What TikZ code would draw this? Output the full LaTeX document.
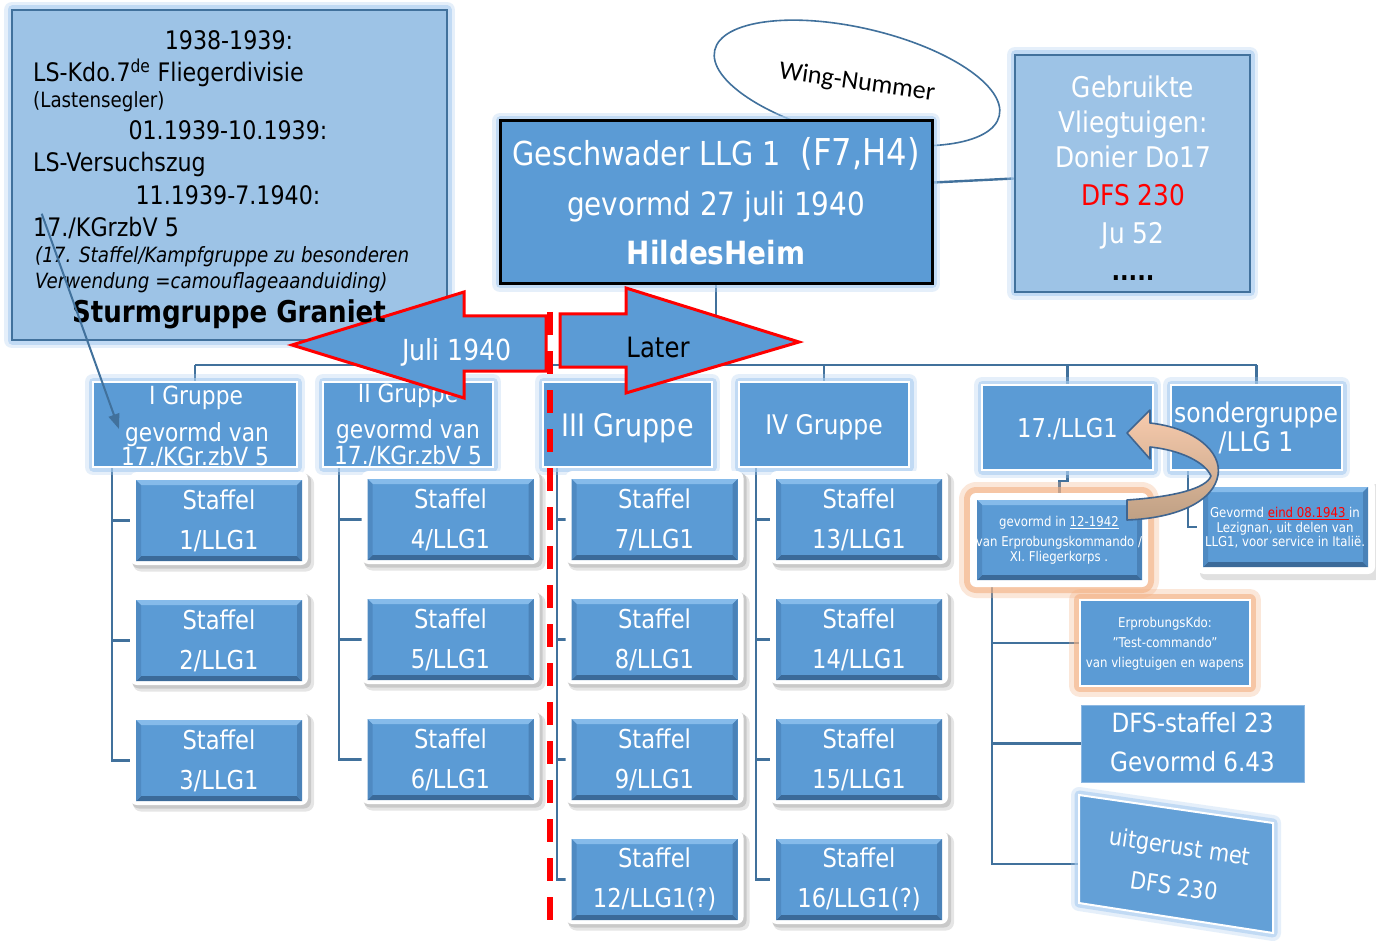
\documentclass[tikz,border=0pt]{standalone}
\usepackage{fontspec}
\setmainfont{DejaVu Sans}[FakeStretch=0.87]
\newfontfamily\calib{Carlito}
\usetikzlibrary{arrows.meta,shapes.geometric}
\definecolor{mainblue}{HTML}{5B9BD5}
\definecolor{connc}{HTML}{41719C}
\definecolor{lightb}{HTML}{9DC3E6}
\definecolor{glowb}{HTML}{A9CDF0}
\definecolor{oglowc}{HTML}{F4B183}
\definecolor{bevtop}{HTML}{86BBEA}
\definecolor{bevbot}{HTML}{3B6A99}
\definecolor{bevleft}{HTML}{4F8AC2}
\definecolor{bevright}{HTML}{4A82B8}
\definecolor{peachA}{HTML}{F8CBAD}
\definecolor{peachB}{HTML}{BFA084}
\definecolor{arredge}{HTML}{3F6590}
\definecolor{dfsedge}{HTML}{8DB8E2}
\pgfdeclarelayer{bgfill}
\pgfdeclarelayer{bg}
\pgfsetlayers{bgfill,bg,main}
\newcommand\fsz[2]{\fontsize{#1pt}{#2pt}\selectfont}
% staffel box: name, cx, cy, text
\newcommand\staffelbox[4]{%
  \fill[black, opacity=0.10, rounded corners=8pt] ({#2-86},{#3-43}) rectangle ({#2+95},{#3+53});
  \fill[black, opacity=0.12, rounded corners=7pt] ({#2-87},{#3-45}) rectangle ({#2+92},{#3+50});
  \fill[white, rounded corners=7pt] ({#2-89},{#3-46.5}) rectangle ({#2+89},{#3+46.5});
  \node[bevelbox, minimum width=166pt, minimum height=81pt, font=\fsz{26}{40}, align=center, yshift=-2pt] (#1) at (#2,#3) {#4};
}
\begin{document}
\begin{tikzpicture}[x=1pt,y=-1pt,
  conn/.style={draw=connc, line width=2.4pt},
  glow/.style={preaction={draw=glowb, line width=16pt, draw opacity=0.3, line join=round},
               preaction={draw=glowb, line width=9pt, draw opacity=0.6, line join=round}},
  oglow/.style={preaction={draw=oglowc, line width=22pt, draw opacity=0.3, line join=round},
                preaction={draw=oglowc, line width=12pt, draw opacity=0.6, line join=round}},
  gbox/.style={rectangle, fill=mainblue, draw=white, line width=2pt, glow, inner sep=0pt},
  wt/.style={text=white, inner sep=0pt, anchor=base, yshift={-0.365*#1pt}, font=\fsz{#1}{#1}},
  bt/.style={text=black, inner sep=0pt, anchor=base, yshift={-0.365*#1pt}, font=\fsz{#1}{#1}},
  btl/.style={text=black, inner sep=0pt, anchor=base west, yshift={-0.365*#1pt}, font=\fsz{#1}{#1}},
  redarrow/.style={fill=mainblue, draw=red, line width=3pt, line join=miter},
  bevelbox/.style={rectangle, fill=mainblue, inner sep=0pt, text=white, path picture={
    \coordinate (pnw) at (path picture bounding box.north west);
    \coordinate (pse) at (path picture bounding box.south east);
    \coordinate (pne) at (pnw -| pse);
    \coordinate (psw) at (pse -| pnw);
    \fill[bevtop] (pnw) -- (pne) -- ([shift={(-5pt,-5pt)}]pne) -- ([shift={(5pt,-5pt)}]pnw) -- cycle;
    \fill[bevbot] (psw) -- (pse) -- ([shift={(-5pt,5pt)}]pse) -- ([shift={(5pt,5pt)}]psw) -- cycle;
    \fill[bevleft] (pnw) -- ([shift={(5pt,-5pt)}]pnw) -- ([shift={(5pt,5pt)}]psw) -- (psw) -- cycle;
    \fill[bevright] (pne) -- ([shift={(-5pt,-5pt)}]pne) -- ([shift={(-5pt,5pt)}]pse) -- (pse) -- cycle;
  }}
]
\begin{pgfonlayer}{bgfill}
\fill[white] (0,0) rectangle (1376,941);
\end{pgfonlayer}
\useasboundingbox (0,0) rectangle (1376,941);

% Wing-Nummer ellipse
\node[ellipse, draw=connc, line width=1.6pt, rotate=-13, minimum width=292pt, minimum height=110pt, inner sep=0pt] (wing) at (857,83) {};
\node[font=\calib\fsz{26}{30}, rotate=-8, inner sep=0pt] (wingt) at (857,83) {Wing-Nummer};

% top-left box
\node[rectangle, fill=lightb, draw=connc, line width=2.5pt, glow, minimum width=435pt, minimum height=330pt, inner sep=0pt] (tl) at (229.5,175) {};

% Geschwader
\node[rectangle, fill=mainblue, draw=black, line width=3pt, glow, minimum width=432pt, minimum height=163pt, inner sep=0pt] (gesch) at (716,202.5) {};
\node[wt=33] (gl1) at (716,153) {Geschwader LLG 1\hspace{0.6em}{\fsz{37}{40}(F7,H4)}};
\node[wt=32] (gl2) at (716,204) {gevormd 27 juli 1940};
\node[wt=32] (gl3) at (716,253) {\bfseries HildesHeim};

% Gebruikte
\node[rectangle, fill=lightb, draw=connc, line width=2.5pt, glow, minimum width=235pt, minimum height=237pt, inner sep=0pt] (gebr) at (1132.5,173.5) {};
\node[wt=28.5] (gb1) at (1133,87) {Gebruikte};
\node[wt=28.5] (gb2) at (1133,122) {Vliegtuigen:};
\node[wt=28.5] (gb3) at (1133,157) {Donier Do17};
\node[wt=28.5, text=red] (gb4) at (1133,195) {DFS 230};
\node[wt=28.5] (gb5) at (1133,233) {Ju 52};
\node[text=black, inner sep=0pt, anchor=base, font=\bfseries\fsz{26}{30}] (gb6) at (1133,281) {.....};

% Gruppe boxes
\node[gbox, minimum width=204pt, minimum height=85pt] (g1) at (195,424.5) {};
\node[gbox, minimum width=170pt, minimum height=85pt] (g2) at (408,424.5) {};
\node[gbox, minimum width=169pt, minimum height=85pt] (g3) at (627.5,424.5) {};
\node[gbox, minimum width=170pt, minimum height=85pt] (g4) at (824,424.5) {};
\node[gbox, minimum width=171pt, minimum height=85pt] (g17) at (1067.5,427.5) {};
\node[gbox, minimum width=171pt, minimum height=85pt] (gson) at (1256.5,427.5) {};

\node[wt=25] (g1a) at (196,395) {I Gruppe};
\node[wt=25] (g1b) at (197,432) {gevormd van};
\node[wt=25] (g1c) at (195,456) {17./KGr.zbV 5};
\node[wt=25] (g2a) at (408,393) {II Gruppe};
\node[wt=25] (g2b) at (408,429) {gevormd van};
\node[wt=25] (g2c) at (408,455) {17./KGr.zbV 5};
\node[wt=31] (g3a) at (627.5,425) {III Gruppe};
\node[wt=27] (g4a) at (824,425) {IV Gruppe};
\node[wt=26] (g17a) at (1067.5,428) {17./LLG1};
\node[wt=27] (gsa) at (1256,413) {sondergruppe};
\node[wt=27] (gsb) at (1256,442) {/LLG 1};

% Staffel boxes
\staffelbox{s1}{219}{518.5}{Staffel\\1/LLG1}
\staffelbox{s2}{219}{638.5}{Staffel\\2/LLG1}
\staffelbox{s3}{219}{758.5}{Staffel\\3/LLG1}
\staffelbox{s4}{450.5}{517.5}{Staffel\\4/LLG1}
\staffelbox{s5}{450.5}{637.5}{Staffel\\5/LLG1}
\staffelbox{s6}{450.5}{757.5}{Staffel\\6/LLG1}
\staffelbox{s7}{654.5}{517.5}{Staffel\\7/LLG1}
\staffelbox{s8}{654.5}{637.5}{Staffel\\8/LLG1}
\staffelbox{s9}{654.5}{757.5}{Staffel\\9/LLG1}
\staffelbox{s12}{654.5}{877.5}{Staffel\\12/LLG1(?)}
\staffelbox{s13}{859}{517.5}{Staffel\\13/LLG1}
\staffelbox{s14}{859}{637.5}{Staffel\\14/LLG1}
\staffelbox{s15}{859}{757.5}{Staffel\\15/LLG1}
\staffelbox{s16}{859}{877.5}{Staffel\\16/LLG1(?)}

% gevormd in (orange glow frame)
\fill[white, rounded corners=6pt, oglow] (970,493) rectangle (1148,587);
\node[bevelbox, minimum width=165pt, minimum height=80pt] (gin) at (1059.5,540) {};
\node[wt=13.5] (gin1) at (1059,522) {gevormd in \underline{12-1942}};
\node[wt=13.5] (gin2) at (1059,542) {van Erprobungskommando /};
\node[wt=13.5] (gin3) at (1059,557) {XI. Fliegerkorps .};

% gevormd eind (shadow frame)
\fill[black, opacity=0.12, rounded corners=7pt] (1200,484) rectangle (1382,580);
\fill[white, rounded corners=7pt] (1197,480) rectangle (1375,574);
\node[bevelbox, minimum width=165pt, minimum height=80pt] (gend) at (1285.5,527) {};
\node[wt=13.5] (ge1) at (1285,513) {Gevormd \textcolor{red}{\underline{eind 08.1943 }}in};
\node[wt=13.5] (ge2) at (1285,528) {Lezignan, uit delen van};
\node[wt=13.5] (ge3) at (1285,542) {LLG1, voor service in Itali\"e.};

% ErprobungsKdo
\node[rectangle, fill=mainblue, draw=white, line width=2.5pt, oglow, minimum width=170pt, minimum height=86pt, inner sep=0pt] (erp) at (1165,643) {};
\node[wt=13.5] (erp1) at (1165,623) {ErprobungsKdo:};
\node[wt=13.5] (erp2) at (1165,643) {"Test-commando"};
\node[wt=13.5] (erp3) at (1165,663) {van vliegtuigen en wapens};

% DFS-staffel
\node[rectangle, fill=mainblue, draw=dfsedge, line width=1pt, minimum width=223pt, minimum height=77pt, inner sep=0pt] (dfs) at (1192.5,743.5) {};
\node[wt=26.5] (dfs1) at (1192.5,723) {DFS-staffel 23};
\node[wt=26.5] (dfs2) at (1192.5,762) {Gevormd 6.43};

% uitgerust parallelogram
\draw[fill=mainblue!95!white, draw=white, line width=2pt, glow] (1079,795) -- (1273,823) -- (1273,933) -- (1079,903) -- cycle;
\coordinate (uitw) at (1079,864);
\node[text=white, font=\fsz{24}{40}, align=center, rotate=-8.2, inner sep=0pt] (uit) at (1177,866) {uitgerust met\\DFS 230};

% connectors (background layer)
\begin{pgfonlayer}{bg}
\coordinate (busL) at (195,365);
\draw[conn] (gesch.south) -- (gesch.south |- busL);
\draw[conn] (g1.north |- busL) -- (gson.north |- busL);
\foreach \g in {g1,g2,g3,g4,g17,gson} { \draw[conn] (\g.north |- busL) -- (\g.north); }
\draw[conn] ([yshift=20pt]gesch.east) -- ([yshift=-5pt]gebr.west);
\draw[conn] ([xshift=20pt]g1.south west) |- (s1.west);
\draw[conn] ([xshift=20pt]g1.south west) |- (s2.west);
\draw[conn] ([xshift=20pt]g1.south west) |- (s3.west);
\draw[conn] ([xshift=17pt]g2.south west) |- (s4.west);
\draw[conn] ([xshift=17pt]g2.south west) |- (s5.west);
\draw[conn] ([xshift=17pt]g2.south west) |- (s6.west);
\draw[conn] ([xshift=15pt]g3.south west) |- (s7.west);
\draw[conn] ([xshift=15pt]g3.south west) |- (s8.west);
\draw[conn] ([xshift=15pt]g3.south west) |- (s9.west);
\draw[conn] ([xshift=15pt]g3.south west) |- (s12.west);
\draw[conn] ([xshift=18pt]g4.south west) |- (s13.west);
\draw[conn] ([xshift=18pt]g4.south west) |- (s14.west);
\draw[conn] ([xshift=18pt]g4.south west) |- (s15.west);
\draw[conn] ([xshift=18pt]g4.south west) |- (s16.west);
\draw[conn] (g17.south) -- ++(0,10) -| (gin.north);
\draw[conn] ([xshift=18pt]gson.south west) |- (gend.west);
\draw[conn] ([xshift=15pt]gin.south west) |- (erp.west);
\draw[conn] ([xshift=15pt]gin.south west) |- (dfs.west);
\draw[conn] ([xshift=15pt]gin.south west) |- (uitw);
\end{pgfonlayer}

% Juli 1940 / Later arrows
\draw[redarrow] (292,345) -- (464,292) -- (464,316) -- (546,316) -- (546,371) -- (464,371) -- (464,398) -- cycle;
\node[wt=29] (juli) at (457,350) {Juli 1940};
\draw[redarrow] (799,342) -- (626,288) -- (626,314) -- (560,314) -- (560,367) -- (626,367) -- (626,393) -- cycle;
\node[bt=28] (later) at (658,347) {Later};

% top-left texts
\node[bt=25.5] (tl1) at (229,40) {1938-1939:};
\node[btl=25.5] (tl2) at (33,72) {LS-Kdo.7\textsuperscript{de} Fliegerdivisie};
\node[btl=21] (tl3) at (33,100) {(Lastensegler)};
\node[bt=25.5] (tl4) at (228,130) {01.1939-10.1939:};
\node[btl=25.5] (tl5) at (33,162) {LS-Versuchszug};
\node[bt=25.5] (tl6) at (228,195) {11.1939-7.1940:};
\node[btl=25.5] (tl7) at (33,227) {17./KGrzbV 5};
\node[btl=21] (tl8) at (35,255) {\itshape (17. Staffel/Kampfgruppe zu besonderen};
\node[btl=21] (tl9) at (35,281) {\itshape Verwendung =camouflageaanduiding)};
\node[bt=30] (tl10) at (229,312) {\bfseries Sturmgruppe Graniet};

% red dashed divider
\draw[red, line width=5.5pt, dash pattern=on 23pt off 16pt] (550,312) -- (550,925);

% curved peach arrow
\path[draw=arredge, line width=1.6pt, top color=peachA, bottom color=peachB, line join=round]
  (1127,433) -- (1150,410) -- (1150,423)
  .. controls (1195,428) and (1222,452) .. (1218,475)
  .. controls (1214,500) and (1180,518) .. (1127,520)
  -- (1127,500)
  .. controls (1172,497) and (1206,489) .. (1211,476)
  .. controls (1205,462) and (1180,450) .. (1150,447)
  -- (1150,459) -- cycle;

% arrow from top-left box to I Gruppe
\draw[connc, line width=2pt, -{Triangle[length=15pt,width=11pt]}] ([shift={(31pt,-205pt)}]tl.north west) -- ([shift={(27pt,-48pt)}]g1.north west);
\end{tikzpicture}
\end{document}
